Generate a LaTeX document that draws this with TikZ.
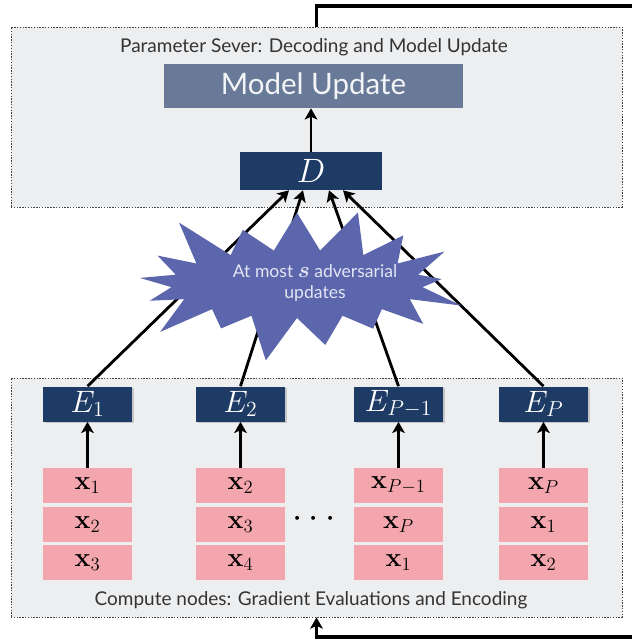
\documentclass[tikz,border=0pt]{standalone}
\usepackage{fix-cm}
\usepackage[no-math]{fontspec}
\setmainfont{Lato}
\usetikzlibrary{positioning,shapes.symbols,arrows.meta,shadows}

\definecolor{psgray}{HTML}{EDEEF0}
\definecolor{navy}{HTML}{1D3B65}
\definecolor{updblue}{HTML}{687A97}
\definecolor{pinkbox}{HTML}{F4A6AE}
\definecolor{starblue}{HTML}{5B66AD}
\definecolor{startext}{HTML}{E3E5F3}
\definecolor{titlegray}{HTML}{333333}

\tikzstyle{region} = [rectangle, draw=black!75, fill=psgray, line width=0.5pt,
    dash pattern=on 1pt off 1pt, minimum width=15.275cm, inner sep=0pt]
\tikzstyle{title} = [text=titlegray, font=\fontsize{13.5}{14}\selectfont, inner sep=0pt]
\tikzstyle{update} = [rectangle, fill=updblue, text=white!92!updblue,
    minimum width=7.45cm, minimum height=1.1cm, font=\fontsize{21}{22}\selectfont]
\tikzstyle{decoder} = [rectangle, fill=navy, text=white,
    minimum width=3.55cm, minimum height=0.95cm, inner sep=0pt, font=\fontsize{24}{24}\selectfont]
\tikzstyle{encoder} = [rectangle, fill=navy, text=white,
    minimum width=2.225cm, minimum height=0.875cm, inner sep=0pt, font=\fontsize{22}{22}\selectfont,
    drop shadow={shadow xshift=1.2pt, shadow yshift=-1.2pt, opacity=0.35}]
\tikzstyle{data} = [rectangle, fill=pinkbox, minimum width=2.225cm,
    minimum height=0.875cm, inner sep=0pt, font=\fontsize{19}{19}\selectfont]
\tikzstyle{line} = [draw, line width=2pt, -{Stealth[length=8pt,width=9pt,inset=2pt]}]
\tikzstyle{feedback} = [draw, line width=2.5pt]

\begin{document}
\begin{tikzpicture}[x=0.025cm, y=-0.025cm]
    \useasboundingbox (0,0) rectangle (632,640);
    % Place nodes
    \node [region, minimum height=4.5cm] (ps) at (316.5,117) {};
    \node [region, minimum height=5.975cm] (cn) at (316.5,497.5) {};
    \node [title] (pstitle) at (314,47) {Parameter Sever: Decoding and Model Update};
    \node [title] (cntitle) at (311,600) {Compute nodes: Gradient Evaluations and Encoding};
    \node [update] (upd) at (313.5,86) {Model Update};
    \node [decoder] (dec) at (311,171) {$D$};
    \node [encoder] (enc1) at (87.5,404) {$E_1$};
    \node [encoder] (enc2) at (240.5,404) {$E_2$};
    \node [encoder] (enc3) at (398.5,404) {$E_{P-1}$};
    \node [encoder] (enc4) at (543.5,404) {$E_P$};
    \node [data] (d11) at (87.5,485.5) {$\mathbf{x}_1$};
    \node [data, below=0.075cm of d11] (d12) {$\mathbf{x}_2$};
    \node [data, below=0.075cm of d12] (d13) {$\mathbf{x}_3$};
    \node [data] (d21) at (240.5,485.5) {$\mathbf{x}_2$};
    \node [data, below=0.075cm of d21] (d22) {$\mathbf{x}_3$};
    \node [data, below=0.075cm of d22] (d23) {$\mathbf{x}_4$};
    \node [data] (d31) at (398.5,485.5) {$\mathbf{x}_{P-1}$};
    \node [data, below=0.075cm of d31] (d32) {$\mathbf{x}_P$};
    \node [data, below=0.075cm of d32] (d33) {$\mathbf{x}_1$};
    \node [data] (d41) at (543.5,485.5) {$\mathbf{x}_P$};
    \node [data, below=0.075cm of d41] (d42) {$\mathbf{x}_1$};
    \node [data, below=0.075cm of d42] (d43) {$\mathbf{x}_2$};
    \node (dots) at (314,519) {\fontsize{26}{26}\selectfont$\cdots$};
    \coordinate (fbtop) at (632,6);
    \coordinate (fbbot) at (632,637);
    % Draw edges
    \path [line] (dec.north) -- (dec.north |- upd.south);
    \path [line] (enc1.north) -- ([xshift=-0.55cm]dec.south);
    \path [line] (enc2.north) -- ([xshift=-0.2cm]dec.south);
    \path [line] (enc3.north) -- ([xshift=0.45cm]dec.south);
    \path [line] (enc4.north) -- ([xshift=0.8cm]dec.south);
    \path [line] (d11) -- (enc1);
    \path [line] (d21) -- (enc2);
    \path [line] (d31) -- (enc3);
    \path [line] (d41) -- (enc4);
    \path [feedback] (ps.north) |- (fbtop);
    \path [feedback, -{Stealth[length=8pt,width=9pt,inset=2pt]}] (fbbot) -| (cn.south);
    % Adversary
    \node [starburst, fill=starblue, minimum width=8.9cm, minimum height=4.3cm,
        starburst points=17, starburst point height=1.3cm] (adv) at (297,284) {};
    \node [text=startext, align=center, font=\fontsize{12.5}{15}\selectfont] (advtext) at (315,283)
        {At most {\fontsize{16}{15}\selectfont\boldmath$s$} adversarial\\updates};
\end{tikzpicture}
\end{document}
